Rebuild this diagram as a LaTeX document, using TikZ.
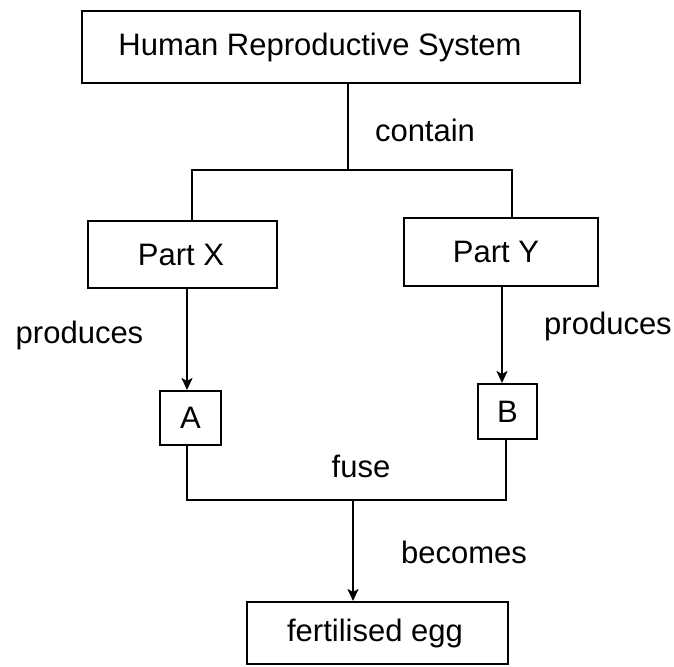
\documentclass[tikz,border=0pt]{standalone}
\usepackage{fontspec}
\setmainfont{Liberation Sans}
\usetikzlibrary{arrows.meta}
\newcommand{\padr}[1]{\rule{#1}{0pt}}
\tikzset{
  box/.style={draw=black, line width=2pt, rectangle, inner sep=0pt, fill=white},
  lbl/.style={inner sep=0pt, font=\fontsize{31pt}{36pt}\selectfont},
  conn/.style={draw=black, line width=2pt},
  arr/.style={conn, -{Stealth[length=12pt,width=11pt,inset=3pt]}}
}
\begin{document}
\begin{tikzpicture}[x=1pt,y=-1pt]
\useasboundingbox[fill=white] (0,0) rectangle (674,666);
% boxes
\node[box, lbl, minimum width=498pt, minimum height=72pt] (top) at (331,47) {Human Reproductive System\padr{22pt}};
\node[box, lbl, minimum width=189pt, minimum height=67pt] (px) at (182.5,254.5) {Part X\padr{3pt}};
\node[box, lbl, minimum width=194pt, minimum height=68pt] (py) at (501,252) {Part Y\padr{10pt}};
\node[box, lbl, minimum width=61pt, minimum height=54pt] (a) at (190.5,418) {A};
\node[box, lbl, minimum width=59pt, minimum height=55pt] (b) at (507.5,411.5) {B};
\node[box, lbl, minimum width=261pt, minimum height=62pt] (egg) at (377.5,633) {fertilised egg\padr{5pt}};
% junction points
\coordinate (jc) at (348,170);
\coordinate (hl) at (192,170);
\coordinate (hr) at (512,170);
\coordinate (fl) at (187,500);
\coordinate (fr) at (506,500);
\coordinate (fm) at (353,500);
% connectors
\draw[conn] (top.south -| jc) -- (jc);
\draw[conn] (px.north -| hl) -- (hl) -- (hr) -- (py.north -| hr);
\draw[arr] ([xshift=-3.5pt]a.north |- px.south) -- ([xshift=-3.5pt]a.north);
\draw[arr] ([xshift=-5.5pt]b.north |- py.south) -- ([xshift=-5.5pt]b.north);
\draw[conn] ([xshift=-3.5pt]a.south) -- (fl) -- (fr) -- (b.south -| fr);
\draw[arr] (fm) -- (egg.north -| fm);
% labels
\node[lbl] (contain) at (425,130) {contain};
\node[lbl] (prodl) at (79.5,335) {produces};
\node[lbl] (prodr) at (608,326) {produces};
\node[lbl] (fuse) at (361,466) {fuse};
\node[lbl] (becomes) at (464,552) {becomes};
\end{tikzpicture}
\end{document}
